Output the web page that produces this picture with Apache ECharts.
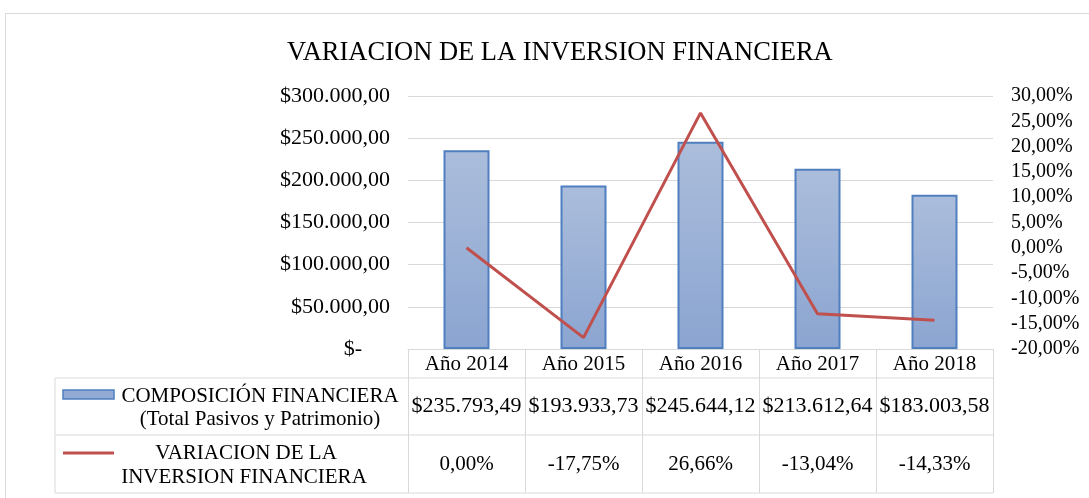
<!DOCTYPE html>
<html>
<head>
<meta charset="utf-8">
<script src="https://cdn.jsdelivr.net/npm/echarts@6/dist/echarts.min.js"></script>
<style>
  html, body { margin: 0; padding: 0; background: #fff; }
  #chart { width: 1089px; height: 498px; }
</style>
</head>
<body>
<div id="chart"></div>
<script>
// datos
const years = ['Año 2014', 'Año 2015', 'Año 2016', 'Año 2017', 'Año 2018'];
const composicion = [235793.49, 193933.73, 245644.12, 213612.64, 183003.58];
const variacion = [0.00, -17.75, 26.66, -13.04, -14.33];

const serif = 'Liberation Serif';
const gridColor = '#d9d9d9';

function money(v) {
    let parts = v.toFixed(2).split('.');
    return '$' + parts[0].replace(/\B(?=(\d{3})+(?!\d))/g, '.') + ',' + parts[1];
}
function pct(v) {
    return v.toFixed(2).replace('.', ',') + '%';
}

let chart = echarts.init(document.getElementById('chart'));

// tabla de datos: 3 ejes x extra para que las celdas queden alineadas con las categorias
const plotLeft = 408, plotRight = 993, plotBottom = 349;
const row1 = 378, row2 = 435, row3 = 493, tableLeft = 55;

var option = {
    backgroundColor: '#fff',
    animation: false,
    title: {
        text: 'VARIACION DE LA INVERSION FINANCIERA',
        left: 282,
        top: 35,
        textStyle: {fontFamily: serif, fontSize: 26.5, fontWeight: 'normal', color: '#000'}
    },
    grid: {left: plotLeft, right: 1089 - plotRight, top: 96, bottom: 498 - plotBottom},
    xAxis: [
        {
            type: 'category',
            data: years,
            axisLine: {lineStyle: {color: gridColor, width: 1}},
            axisTick: {show: true, interval: 0, length: row3 - plotBottom, lineStyle: {color: gridColor}},
            axisLabel: {margin: 15, verticalAlign: 'middle', color: '#000', fontFamily: serif, fontSize: 21}
        },
        {
            type: 'category',
            data: composicion.map(money),
            position: 'bottom',
            offset: 57,
            axisLine: {show: false},
            axisTick: {show: false},
            axisLabel: {margin: 0, interval: 0, verticalAlign: 'middle', color: '#000', fontFamily: serif, fontSize: 22}
        },
        {
            type: 'category',
            data: variacion.map(pct),
            position: 'bottom',
            offset: 115,
            axisLine: {show: false},
            axisTick: {show: false},
            axisLabel: {margin: 0, interval: 0, verticalAlign: 'middle', color: '#000', fontFamily: serif, fontSize: 21}
        }
    ],
    yAxis: [
        {
            type: 'value',
            min: 0,
            max: 300000,
            interval: 50000,
            axisLine: {show: false},
            axisTick: {show: false},
            splitLine: {lineStyle: {color: gridColor, width: 1}},
            axisLabel: {
                margin: 18,
                color: '#000',
                fontFamily: serif,
                fontSize: 22,
                formatter: function (v) {
                    return v === 0 ? '{z|$-}' : money(v);
                },
                rich: {z: {fontFamily: serif, fontSize: 22, color: '#000', padding: [0, 28, 0, 0]}}
            }
        },
        {
            type: 'value',
            min: -20,
            max: 30,
            interval: 5,
            axisLine: {show: false},
            axisTick: {show: false},
            splitLine: {show: false},
            axisLabel: {margin: 18, color: '#000', fontFamily: serif, fontSize: 20, formatter: pct}
        }
    ],
    series: [
        {
            name: 'COMPOSICIÓN FINANCIERA (Total Pasivos y Patrimonio)',
            type: 'bar',
            data: composicion,
            barWidth: 46,
            itemStyle: {
                color: new echarts.graphic.LinearGradient(0, 0, 0, 1, [
                    {offset: 0, color: '#abbddb'},
                    {offset: 1, color: '#8ba5d1'}
                ]),
                borderColor: '#4f7fbf',
                borderWidth: 2
            }
        },
        {
            name: 'VARIACION DE LA INVERSION FINANCIERA',
            type: 'line',
            yAxisIndex: 1,
            data: variacion,
            symbol: 'none',
            lineStyle: {color: '#c0504d', width: 3},
            itemStyle: {color: '#c0504d'}
        }
    ],
    graphic: [
        // marco del grafico
        {type: 'rect', shape: {x: 5.5, y: 13.5, width: 1100, height: 500}, style: {fill: 'none', stroke: gridColor, lineWidth: 1}, silent: true},
        // lineas horizontales de la tabla
        {type: 'line', shape: {x1: tableLeft, y1: row1, x2: plotRight, y2: row1}, style: {stroke: gridColor, lineWidth: 1}},
        {type: 'line', shape: {x1: tableLeft, y1: row2, x2: plotRight, y2: row2}, style: {stroke: gridColor, lineWidth: 1}},
        {type: 'line', shape: {x1: tableLeft, y1: row3, x2: plotRight, y2: row3}, style: {stroke: gridColor, lineWidth: 1}},
        {type: 'line', shape: {x1: tableLeft, y1: row1, x2: tableLeft, y2: row3}, style: {stroke: gridColor, lineWidth: 1}},
        // leyenda dentro de la tabla
        {type: 'rect', shape: {x: 63, y: 390, width: 51, height: 9}, style: {fill: '#93abd4', stroke: '#4f7fbf', lineWidth: 1.5}},
        {type: 'text', x: 260, y: 396, style: {text: 'COMPOSICIÓN FINANCIERA', fontFamily: serif, fontSize: 21, fill: '#000', textAlign: 'center', textVerticalAlign: 'middle'}},
        {type: 'text', x: 260, y: 419, style: {text: '(Total Pasivos y Patrimonio)', fontFamily: serif, fontSize: 21, fill: '#000', textAlign: 'center', textVerticalAlign: 'middle'}},
        {type: 'line', shape: {x1: 63, y1: 453, x2: 114, y2: 453}, style: {stroke: '#c0504d', lineWidth: 3}},
        {type: 'text', x: 246, y: 453, style: {text: 'VARIACION DE LA', fontFamily: serif, fontSize: 21, fill: '#000', textAlign: 'center', textVerticalAlign: 'middle'}},
        {type: 'text', x: 244, y: 477, style: {text: 'INVERSION FINANCIERA', fontFamily: serif, fontSize: 21, fill: '#000', textAlign: 'center', textVerticalAlign: 'middle'}}
    ]
};
chart.setOption(option);
</script>
</body>
</html>
